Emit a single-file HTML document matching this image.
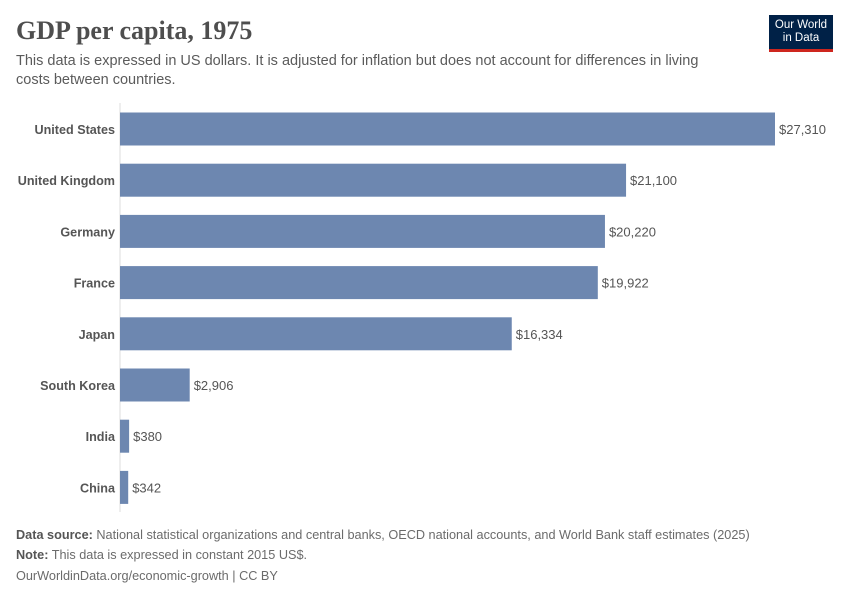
<!DOCTYPE html>
<html><head><meta charset="utf-8"><style>
body{margin:0;width:850px;height:600px;background:#fff;font-family:"Liberation Sans",sans-serif;overflow:hidden;position:relative}
.t{position:absolute;white-space:nowrap}
</style></head><body>
<div class="t" style="left:16px;top:16px;font-family:'Liberation Serif',serif;font-size:26px;font-weight:600;color:#4e4e4e">GDP per capita, 1975</div>
<div class="t" style="left:16px;top:52px;font-size:14.5px;line-height:19px;color:#5b5b5b;white-space:normal;width:720px">This data is expressed in US dollars. It is adjusted for inflation but does not account for differences in living costs between countries.</div>
<div style="position:absolute;left:769px;top:15px;width:64px;height:37px;background:#002147;border-bottom:3px solid #ce261e;box-sizing:border-box;color:#fff;font-size:11.5px;line-height:13px;text-align:center;padding-top:4px">Our World<br>in Data</div>
<svg id="chart" width="850" height="600" style="position:absolute;left:0;top:0"></svg>
<div class="t" style="left:16px;top:528px;font-size:12.7px;color:#6b6b6b"><b style="color:#555">Data source:</b> National statistical organizations and central banks, OECD national accounts, and World Bank staff estimates (2025)</div>
<div class="t" style="left:16px;top:548px;font-size:12.7px;color:#6b6b6b"><b style="color:#555">Note:</b> This data is expressed in constant 2015 US$.</div>
<div class="t" style="left:16px;top:569px;font-size:12.7px;color:#6b6b6b">OurWorldinData.org/economic-growth | CC BY</div>
<script>
const countries=["United States","United Kingdom","Germany","France","Japan","South Korea","India","China"];
const values=[27310,21100,20220,19922,16334,2906,380,342];
const labels=["$27,310","$21,100","$20,220","$19,922","$16,334","$2,906","$380","$342"];
const svg=document.getElementById('chart');
const NS='http://www.w3.org/2000/svg';
const x0=120,xMax=27310,w=655;
const xs=v=>x0+v/xMax*w;
const ys=i=>129+i*51.2;
const bh=33;
const ax=document.createElementNS(NS,'line');
ax.setAttribute('x1',x0);ax.setAttribute('x2',x0);ax.setAttribute('y1',103);ax.setAttribute('y2',512);
ax.setAttribute('stroke','#ddd');


svg.appendChild(ax);
countries.forEach((c,i)=>{
 const y=ys(i);
 const r=document.createElementNS(NS,'rect');
 r.setAttribute('x',x0);r.setAttribute('y',y-bh/2);r.setAttribute('width',xs(values[i])-x0);r.setAttribute('height',bh);r.setAttribute('fill','#6d87b0');
 
 
 svg.appendChild(r);
 const t=document.createElementNS(NS,'text');
 t.setAttribute('x',115);t.setAttribute('y',y+5);t.setAttribute('text-anchor','end');
 t.setAttribute('font-size','12.6');t.setAttribute('font-weight','bold');t.setAttribute('fill','#555');t.textContent=c;
 
 
 svg.appendChild(t);
 const v=document.createElementNS(NS,'text');
 v.setAttribute('x',xs(values[i])+4);v.setAttribute('y',y+5);
 v.setAttribute('font-size','13');v.setAttribute('fill','#555');v.textContent=labels[i];
 
 
 svg.appendChild(v);
});
</script>
</body></html>
